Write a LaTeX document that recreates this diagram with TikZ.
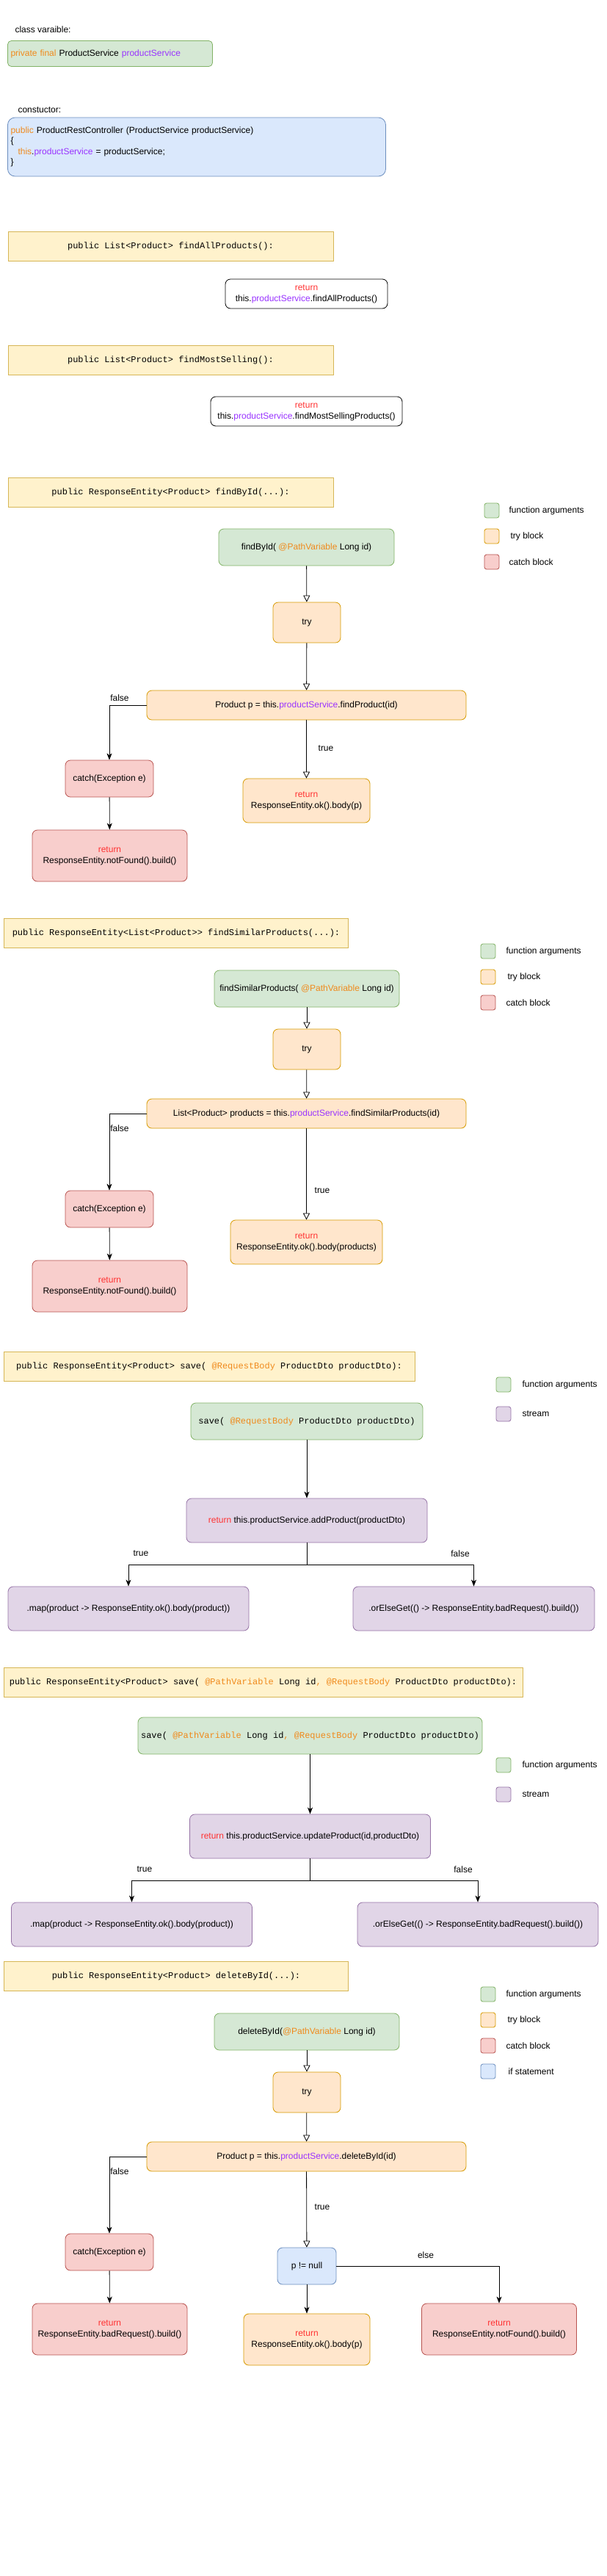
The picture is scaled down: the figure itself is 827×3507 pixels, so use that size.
\documentclass[tikz,border=0pt]{standalone}
\usepackage{fontspec}
\setmainfont{Liberation Sans}
\setmonofont{Liberation Mono}
\usepackage{xcolor}
\usepackage{tikz}
\usetikzlibrary{arrows.meta,positioning}

\definecolor{grnfill}{HTML}{D5E8D4}
\definecolor{grnline}{HTML}{82B366}
\definecolor{ylwfill}{HTML}{FFF2CC}
\definecolor{ylwline}{HTML}{D6B656}
\definecolor{orgfill}{HTML}{FFE6CC}
\definecolor{orgline}{HTML}{D79B00}
\definecolor{redfill}{HTML}{F8CECC}
\definecolor{redline}{HTML}{B85450}
\definecolor{blufill}{HTML}{DAE8FC}
\definecolor{bluline}{HTML}{6C8EBF}
\definecolor{prpfill}{HTML}{E1D5E7}
\definecolor{prpline}{HTML}{9673A6}
\definecolor{kwcol}{HTML}{F08A1C}
\definecolor{fldcol}{HTML}{9933FF}
\definecolor{retcol}{HTML}{FF3333}

\newcommand{\txt}{\fontsize{12pt}{15pt}\selectfont}
\newcommand{\mono}{\ttfamily\fontsize{12pt}{15pt}\selectfont}
\newcommand{\kwd}[1]{\textcolor{kwcol}{#1}}
\newcommand{\fld}[1]{\textcolor{fldcol}{#1}}
\newcommand{\rtn}{\textcolor{retcol}{return}}

\begin{document}
\begin{tikzpicture}[
    x=1pt, y=-1pt,
    every node/.style={font=\txt, align=center},
    box/.style={rectangle, draw, rounded corners=7pt, line width=0.8pt, inner xsep=2pt},
    hdr/.style={rectangle, draw=ylwline, fill=ylwfill, line width=0.8pt, font=\mono, minimum height=40pt},
    funcbox/.style={box, draw=grnline, fill=grnfill, minimum height=50pt},
    trybox/.style={box, draw=orgline, fill=orgfill},
    catchbox/.style={box, draw=redline, fill=redfill},
    ifbox/.style={box, draw=bluline, fill=blufill},
    streambox/.style={box, draw=prpline, fill=prpfill, minimum height=60pt},
    retbox/.style={box, draw=black, fill=white, minimum height=40pt},
    key/.style={rectangle, draw, rounded corners=3pt, line width=0.8pt, minimum width=20pt, minimum height=20pt},
    harrow/.style={-{Triangle[open,length=9pt,width=9pt]}, line width=0.8pt},
    farrow/.style={-{Stealth[length=9pt,width=7pt,inset=2.5pt]}, line width=0.8pt}
]
\path[use as bounding box, fill=white] (0,0) rectangle (827,3507);

% Class variable and constructor
\node[anchor=west] (lblClass) at (17,40) {class varaible:};
\node[box, draw=grnline, fill=grnfill, rounded corners=5pt, align=left, text width=271pt, inner xsep=4pt, minimum height=35pt] (classVar) at (150,73)
  {\kwd{private final} ProductService \fld{productService}};
\node[anchor=west] (lblCtor) at (21,150) {constuctor:};
\node[box, draw=bluline, fill=blufill, rounded corners=10pt, align=left, text width=507pt, inner xsep=4pt, minimum height=80pt, font=\fontsize{12pt}{14.5pt}\selectfont] (ctor) at (268,200)
  {\kwd{public} ProductRestController (ProductService productService)\\
   \{\\
   \hspace*{10pt}\kwd{this}.\fld{productService} = productService;\\
   \}};

% findAllProducts / findMostSelling
\node[hdr, minimum width=443pt] (hdr1) at (232.5,335) {public List<Product> findAllProducts():};
\node[retbox, minimum width=221pt] (ret1) at (417.5,400) {\rtn\\this.\fld{productService}.findAllProducts()};
\node[hdr, minimum width=443pt] (hdr2) at (232.5,490) {public List<Product> findMostSelling():};
\node[retbox, minimum width=261pt] (ret2) at (417.5,560) {\rtn\\this.\fld{productService}.findMostSellingProducts()};

% findById
\node[hdr, minimum width=443pt] (hdr3) at (232.5,670) {public ResponseEntity<Product> findById(...):};
\node[key, draw=grnline, fill=grnfill] (keyA1) at (670,695) {};
\node[key, draw=orgline, fill=orgfill] (keyB1) at (670,730) {};
\node[key, draw=redline, fill=redfill] (keyC1) at (670,765) {};
\node[right=13pt of keyA1, inner xsep=0pt] {function arguments};
\node[right=15pt of keyB1, inner xsep=0pt] {try block};
\node[right=13pt of keyC1, inner xsep=0pt] {catch block};

\node[funcbox, minimum width=239pt] (fArgs1) at (417.5,745) {findById( \kwd{@PathVariable} Long id)};
\node[trybox, minimum width=92pt, minimum height=55pt] (try1) at (418,847.5) {try};
\node[trybox, minimum width=435pt, minimum height=40pt] (stmt1) at (417.5,960) {Product p = this.\fld{productService}.findProduct(id)};
\node[catchbox, minimum width=120pt, minimum height=50pt] (catch1) at (149,1060) {catch(Exception e)};
\node[catchbox, minimum width=211pt, minimum height=70pt] (nf1) at (149.5,1165) {\rtn\\ResponseEntity.notFound().build()};
\node[trybox, minimum width=173pt, minimum height=60pt] (ok1) at (417.5,1090) {\rtn\\ResponseEntity.ok().body(p)};

\draw[harrow] (fArgs1) -- (try1);
\draw[harrow] (try1) -- (stmt1);
\draw[farrow] (stmt1.west) -| (catch1.north);
\draw[farrow] (catch1) -- (nf1);
\draw[harrow] (stmt1) -- (ok1);
\node (f1) at (163,950) {false};
\node (t1) at (444,1019) {true};

% findSimilarProducts
\node[hdr, minimum width=469pt] (hdr4) at (240,1270) {public ResponseEntity<List<Product>{}> findSimilarProducts(...):};
\node[key, draw=grnline, fill=grnfill] (keyA2) at (665,1295) {};
\node[key, draw=orgline, fill=orgfill] (keyB2) at (665,1330) {};
\node[key, draw=redline, fill=redfill] (keyC2) at (665,1365) {};
\node[right=14pt of keyA2, inner xsep=0pt] {function arguments};
\node[right=16pt of keyB2, inner xsep=0pt] {try block};
\node[right=14pt of keyC2, inner xsep=0pt] {catch block};

\node[funcbox, minimum width=252pt] (fArgs2) at (418,1346) {findSimilarProducts( \kwd{@PathVariable} Long id)};
\node[trybox, minimum width=92pt, minimum height=55pt] (try2) at (418,1428.5) {try};
\node[trybox, minimum width=435pt, minimum height=40pt] (stmt2) at (417.5,1516) {List<Product> products = this.\fld{productService}.findSimilarProducts(id)};
\node[catchbox, minimum width=120pt, minimum height=50pt] (catch2) at (149,1646) {catch(Exception e)};
\node[catchbox, minimum width=211pt, minimum height=70pt] (nf2) at (149.5,1751) {\rtn\\ResponseEntity.notFound().build()};
\node[trybox, minimum width=207pt, minimum height=60pt] (ok2) at (417.5,1691) {\rtn\\ResponseEntity.ok().body(products)};

\draw[harrow] (fArgs2) -- (try2);
\draw[harrow] (try2) -- (stmt2);
\draw[farrow] (stmt2.west) -| (catch2.north);
\draw[farrow] (catch2) -- (nf2);
\draw[harrow] (stmt2) -- (ok2);
\node (f2) at (163,1536) {false};
\node (t2) at (439,1621) {true};

% save (RequestBody)
\node[hdr, minimum width=560pt] (hdr5) at (285,1860) {public ResponseEntity<Product> save( \kwd{@RequestBody} ProductDto productDto):};
\node[key, draw=grnline, fill=grnfill] (keyA3) at (686,1885) {};
\node[key, draw=prpline, fill=prpfill] (keyD3) at (686,1925) {};
\node[right=15pt of keyA3, inner xsep=0pt] {function arguments};
\node[right=15pt of keyD3, inner xsep=0pt] {stream};

\node[funcbox, font=\mono, minimum width=316pt] (fArgs3) at (418,1935) {save( \kwd{@RequestBody} ProductDto productDto)};
\node[streambox, minimum width=328pt] (strm1) at (418,2070) {\rtn{} this.productService.addProduct(productDto)};
\node[streambox, minimum width=328pt] (map1) at (175,2190) {.map(product -> ResponseEntity.ok().body(product))};
\node[streambox, minimum width=329pt] (else1) at (645.5,2190) {.orElseGet(() -> ResponseEntity.badRequest().build())};
\coordinate (sp1) at (418,2130);

\draw[farrow] (fArgs3) -- (strm1);
\draw[line width=0.8pt] (strm1.south) -- (sp1);
\draw[farrow] (sp1) -| (map1.north);
\draw[farrow] (sp1) -| (else1.north);
\node (t3) at (192,2115) {true};
\node (f3) at (627,2115) {false};

% save (PathVariable, RequestBody)
\node[hdr, minimum width=707pt, inner xsep=1pt] (hdr6) at (358.5,2290) {public ResponseEntity<Product> save( \kwd{@PathVariable} Long id\kwd{,} \kwd{@RequestBody} ProductDto productDto):};
\node[key, draw=grnline, fill=grnfill] (keyA4) at (686,2403) {};
\node[key, draw=prpline, fill=prpfill] (keyD4) at (686,2443) {};
\node[right=15pt of keyA4, inner xsep=0pt] {function arguments};
\node[right=15pt of keyD4, inner xsep=0pt] {stream};

\node[funcbox, font=\mono, minimum width=469pt, inner xsep=0.5pt] (fArgs4) at (422.5,2363) {save( \kwd{@PathVariable} Long id\kwd{,} \kwd{@RequestBody} ProductDto productDto)};
\node[streambox, minimum width=328pt] (strm2) at (422.5,2500) {\rtn{} this.productService.updateProduct(id,productDto)};
\node[streambox, minimum width=328pt] (map2) at (179.5,2620) {.map(product -> ResponseEntity.ok().body(product))};
\node[streambox, minimum width=328pt] (else2) at (651,2620) {.orElseGet(() -> ResponseEntity.badRequest().build())};
\coordinate (sp2) at (422.5,2560);

\draw[farrow] (fArgs4) -- (strm2);
\draw[line width=0.8pt] (strm2.south) -- (sp2);
\draw[farrow] (sp2) -| (map2.north);
\draw[farrow] (sp2) -| (else2.north);
\node (t4) at (197,2545) {true};
\node (f4) at (631,2545) {false};

% deleteById
\node[hdr, minimum width=469pt] (hdr7) at (240,2690) {public ResponseEntity<Product> deleteById(...):};
\node[key, draw=grnline, fill=grnfill] (keyA5) at (665,2715) {};
\node[key, draw=orgline, fill=orgfill] (keyB5) at (665,2750) {};
\node[key, draw=redline, fill=redfill] (keyC5) at (665,2785) {};
\node[key, draw=bluline, fill=blufill] (keyE5) at (665,2820) {};
\node[right=14pt of keyA5, inner xsep=0pt] {function arguments};
\node[right=16pt of keyB5, inner xsep=0pt] {try block};
\node[right=14pt of keyC5, inner xsep=0pt] {catch block};
\node[right=17pt of keyE5, inner xsep=0pt] {if statement};

\node[funcbox, minimum width=252pt] (fArgs5) at (418,2766) {deleteById(\kwd{@PathVariable} Long id)};
\node[trybox, minimum width=92pt, minimum height=55pt] (try3) at (418,2848.5) {try};
\node[trybox, minimum width=435pt, minimum height=40pt] (stmt3) at (417.5,2936) {Product p = this.\fld{productService}.deleteById(id)};
\node[catchbox, minimum width=120pt, minimum height=50pt] (catch3) at (149,3066) {catch(Exception e)};
\node[catchbox, minimum width=211pt, minimum height=70pt] (br3) at (149.5,3171) {\rtn\\ResponseEntity.badRequest().build()};
\node[ifbox, minimum width=80pt, minimum height=50pt] (cond) at (418,3085) {p != null};
\node[trybox, minimum width=172pt, minimum height=70pt] (ok3) at (418,3185) {\rtn\\ResponseEntity.ok().body(p)};
\node[catchbox, minimum width=211pt, minimum height=70pt] (nf3) at (680,3171) {\rtn\\ResponseEntity.notFound().build()};

\draw[harrow] (fArgs5) -- (try3);
\draw[harrow] (try3) -- (stmt3);
\draw[farrow] (stmt3.west) -| (catch3.north);
\draw[farrow] (catch3) -- (br3);
\draw[harrow] (stmt3) -- (cond);
\draw[farrow] (cond) -- (ok3);
\draw[farrow] (cond.east) -| (nf3.north);
\node (f5) at (163,2956) {false};
\node (t5) at (439,3005) {true};
\node (e5) at (580,3070) {else};

\end{tikzpicture}
\end{document}
